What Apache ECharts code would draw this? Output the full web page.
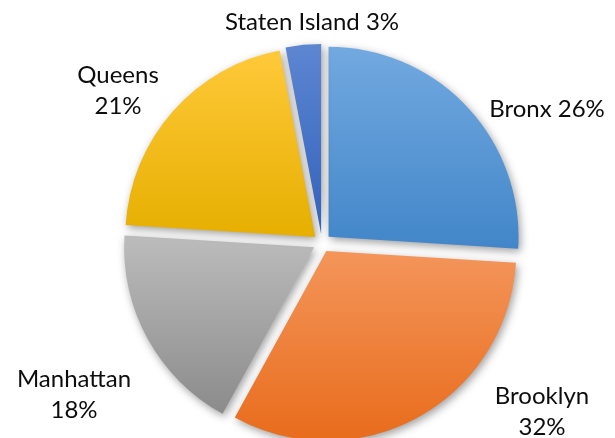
<!DOCTYPE html>
<html>
<head>
<meta charset="utf-8">
<script src="https://cdn.jsdelivr.net/npm/echarts@6/dist/echarts.min.js"></script>
<style>
  html, body { margin: 0; padding: 0; background: #ffffff; }
  #chart { width: 615px; height: 438px; }
</style>
</head>
<body>
<div id="chart"></div>
<script>
// Share of population by borough
const boroughs = ['Bronx', 'Brooklyn', 'Manhattan', 'Queens', 'Staten Island'];
const shares = [26, 32, 18, 21, 3];

// Slice fills: lighter at the top, darker at the bottom
const topColors = ['#72a9e0', '#f4955a', '#bcbcbc', '#ffc93a', '#5d86d2'];
const bottomColors = ['#4286c9', '#e86c1c', '#8b8b8b', '#e6af00', '#3262ba'];

// Label anchor points (px, centre of the text block) and line wrapping
const labelSpots = [
  { x: 547, y: 109, wrap: false },
  { x: 542, y: 412, wrap: true },
  { x: 74, y: 395, wrap: true },
  { x: 118, y: 91, wrap: true },
  { x: 312, y: 22, wrap: false }
];

const chart = echarts.init(document.getElementById('chart'), null, { renderer: 'canvas' });

const sliceData = boroughs.map((name, i) => ({
  name: name,
  value: shares[i],
  selected: true,
  itemStyle: {
    color: new echarts.graphic.LinearGradient(0, 0, 0, 1, [
      { offset: 0, color: topColors[i] },
      { offset: 1, color: bottomColors[i] }
    ])
  }
}));

const labelData = boroughs.map((name, i) => ({ name: name, value: shares[i] }));

const pieGeometry = {
  type: 'pie',
  center: [322, 243],
  radius: [0, 190],
  startAngle: 90,
  clockwise: true
};

const shadowStyle = {
  borderWidth: 0,
  shadowBlur: 8,
  shadowColor: 'rgba(0,0,0,0.38)',
  shadowOffsetX: 2,
  shadowOffsetY: 3
};

chart.setOption({
  animation: false,
  backgroundColor: '#ffffff',
  series: [
    // Exploded slices
    Object.assign({}, pieGeometry, {
      selectedMode: 'multiple',
      selectedOffset: 9,
      data: sliceData,
      itemStyle: shadowStyle,
      select: { itemStyle: shadowStyle },
      emphasis: { disabled: true },
      label: { show: false },
      labelLine: { show: false }
    }),
    // Category / percentage labels
    Object.assign({}, pieGeometry, {
      silent: true,
      selectedMode: false,
      data: labelData,
      itemStyle: { color: 'rgba(0,0,0,0)' },
      emphasis: { disabled: true },
      avoidLabelOverlap: false,
      label: {
        show: true,
        position: 'outside',
        fontFamily: 'Lato',
        fontSize: 24,
        lineHeight: 31,
        color: '#0d0d0d',
        formatter: function (p) {
          const sep = labelSpots[p.dataIndex].wrap ? '\n' : ' ';
          return p.name + sep + p.value + '%';
        }
      },
      labelLine: { show: false },
      labelLayout: function (params) {
        const spot = labelSpots[params.dataIndex];
        return {
          x: spot.x,
          y: spot.y,
          align: 'center',
          verticalAlign: 'middle'
        };
      }
    })
  ]
});
</script>
</body>
</html>
